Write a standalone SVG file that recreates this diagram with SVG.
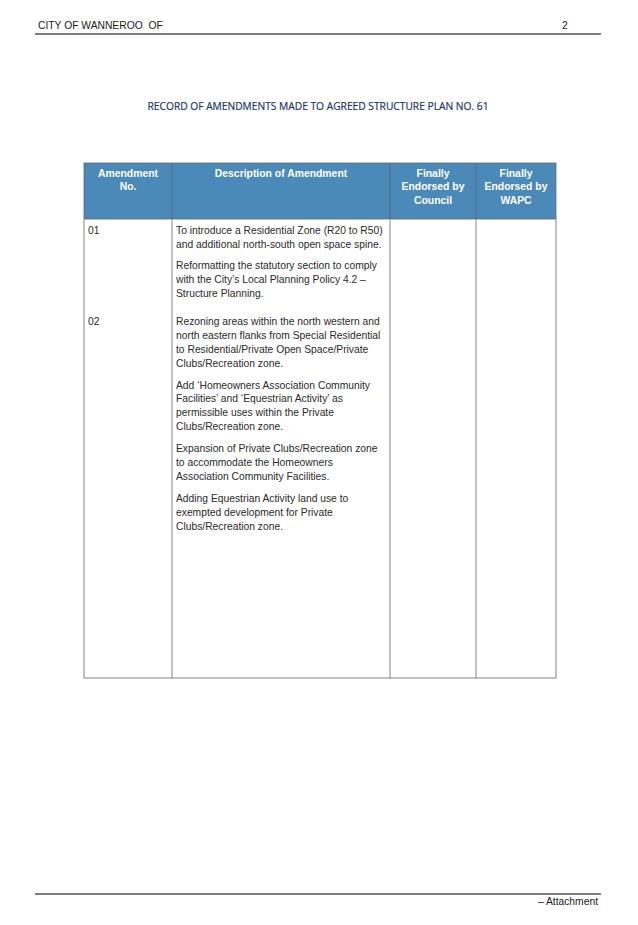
<svg xmlns="http://www.w3.org/2000/svg" width="638" height="925" viewBox="0 0 638 925">
<style>
.hdr{font-family:"Liberation Sans",Arial,sans-serif;font-size:10.3px;fill:#1a1a1a}
.th{font-family:"Liberation Sans",Arial,sans-serif;font-size:10.4px;font-weight:bold;fill:#ffffff;text-anchor:middle}
.td{font-family:"Liberation Sans",Arial,sans-serif;font-size:10.3px;fill:#2a2a2a}
.title{font-family:"Open Sans","Liberation Sans",sans-serif;font-size:11px;fill:#1c3566;text-anchor:middle;stroke:#1c3566;stroke-width:0.2}
.rule{stroke:#555;stroke-width:1.3}
.grid{stroke:#666;stroke-width:0.8;fill:none}
</style>
<rect width="638" height="925" fill="#ffffff"/>
<g id="page-header">
<text class="hdr" x="38" y="29" xml:space="preserve">CITY OF WANNEROO  OF</text>
<text class="hdr" x="562" y="29">2</text>
<line class="rule" x1="35" y1="34" x2="601" y2="34"/>
</g>
<g id="title">
<text class="title" x="318" y="110" textLength="341" lengthAdjust="spacingAndGlyphs">RECORD OF AMENDMENTS MADE TO AGREED STRUCTURE PLAN NO. 61</text>
</g>
<g id="table">
<rect x="84" y="163" width="472" height="56" fill="#4a89b8"/>
<g class="grid">
<rect x="84" y="163" width="472" height="515"/>
<line x1="84" y1="219" x2="556" y2="219"/>
<line x1="172" y1="163" x2="172" y2="678"/>
<line x1="390" y1="163" x2="390" y2="678"/>
<line x1="476" y1="163" x2="476" y2="678"/>
</g>
<g id="header-cells">
<text class="th" x="128" y="177">Amendment</text>
<text class="th" x="128" y="190">No.</text>
<text class="th" x="281" y="177">Description of Amendment</text>
<text class="th" x="433" y="177">Finally</text>
<text class="th" x="433" y="190">Endorsed by</text>
<text class="th" x="433" y="204">Council</text>
<text class="th" x="516" y="177">Finally</text>
<text class="th" x="516" y="190">Endorsed by</text>
<text class="th" x="516" y="204">WAPC</text>
</g>
<g id="row-01">
<text class="td" x="88" y="234">01</text>
<text class="td" x="176" y="234">To introduce a Residential Zone (R20 to R50)</text>
<text class="td" x="176" y="248">and additional north-south open space spine.</text>
<text class="td" x="176" y="269">Reformatting the statutory section to comply</text>
<text class="td" x="176" y="283">with the City’s Local Planning Policy 4.2 –</text>
<text class="td" x="176" y="297">Structure Planning.</text>
</g>
<g id="row-02">
<text class="td" x="88" y="325">02</text>
<text class="td" x="176" y="325">Rezoning areas within the north western and</text>
<text class="td" x="176" y="339">north eastern flanks from Special Residential</text>
<text class="td" x="176" y="353">to Residential/Private Open Space/Private</text>
<text class="td" x="176" y="367">Clubs/Recreation zone.</text>
<text class="td" x="176" y="389">Add ‘Homeowners Association Community</text>
<text class="td" x="176" y="402">Facilities’ and ‘Equestrian Activity’ as</text>
<text class="td" x="176" y="416">permissible uses within the Private</text>
<text class="td" x="176" y="430">Clubs/Recreation zone.</text>
<text class="td" x="176" y="452">Expansion of Private Clubs/Recreation zone</text>
<text class="td" x="176" y="466">to accommodate the Homeowners</text>
<text class="td" x="176" y="480">Association Community Facilities.</text>
<text class="td" x="176" y="502">Adding Equestrian Activity land use to</text>
<text class="td" x="176" y="516">exempted development for Private</text>
<text class="td" x="176" y="530">Clubs/Recreation zone.</text>
</g>
</g>
<g id="page-footer">
<line class="rule" x1="35" y1="894" x2="601" y2="894"/>
<text class="hdr" x="598" y="905" text-anchor="end">– Attachment</text>
</g>
</svg>
